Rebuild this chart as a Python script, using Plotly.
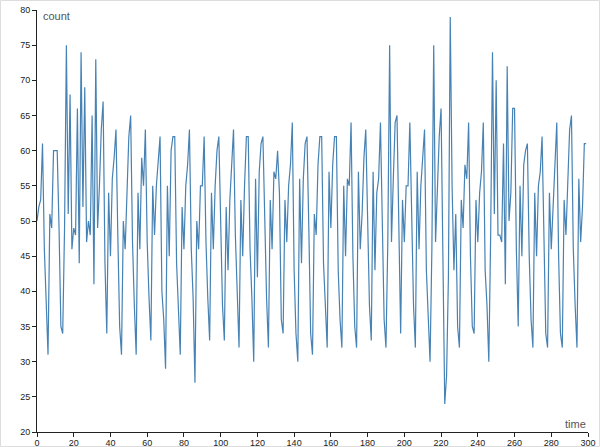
import plotly.graph_objects as go

time = list(range(300))
count = [
    50, 52, 53, 61, 46, 37, 31, 51, 49, 60,
    60, 60, 49, 35, 34, 49, 75, 51, 68, 46,
    49, 48, 66, 44, 74, 52, 69, 47, 50, 48,
    65, 41, 73, 49, 55, 63, 67, 44, 34, 54,
    45, 56, 59, 63, 48, 35, 31, 50, 46, 53,
    62, 65, 47, 38, 31, 54, 46, 59, 55, 63,
    47, 39, 33, 55, 48, 55, 58, 62, 40, 36,
    29, 55, 45, 60, 62, 62, 44, 36, 31, 52,
    46, 55, 58, 63, 46, 39, 27, 50, 46, 55,
    55, 62, 47, 39, 33, 54, 46, 55, 60, 62,
    48, 38, 33, 52, 43, 53, 58, 63, 48, 40,
    32, 53, 45, 55, 62, 62, 46, 39, 30, 56,
    42, 57, 61, 62, 49, 39, 32, 53, 46, 57,
    56, 60, 54, 36, 34, 53, 47, 55, 58, 64,
    43, 34, 30, 56, 44, 56, 61, 62, 49, 34,
    31, 51, 48, 58, 62, 62, 44, 38, 32, 57,
    49, 58, 62, 62, 43, 36, 32, 55, 45, 56,
    55, 64, 45, 35, 32, 57, 46, 51, 59, 63,
    48, 38, 33, 57, 43, 54, 56, 64, 50, 36,
    32, 47, 75, 47, 56, 64, 65, 50, 34, 53,
    47, 55, 55, 64, 49, 38, 32, 57, 46, 55,
    59, 63, 43, 37, 30, 46, 75, 47, 54, 62,
    66, 45, 24, 28, 42, 79, 55, 43, 51, 35,
    32, 53, 49, 58, 56, 64, 45, 35, 34, 53,
    47, 54, 57, 64, 43, 38, 30, 48, 74, 51,
    70, 48, 48, 47, 61, 41, 72, 50, 54, 66,
    66, 46, 35, 55, 45, 58, 60, 61, 45, 36,
    32, 54, 45, 55, 57, 62, 49, 34, 32, 54,
    46, 52, 59, 64, 45, 34, 32, 53, 48, 56,
    63, 65, 46, 38, 32, 56, 47, 52, 61, 61,
]

x_ticks = list(range(0, 301, 20))
y_ticks = list(range(20, 81, 5))

ML, MR, MT, MB = 37, 12, 10, 15
W, H = 600, 447
PW, PH = W - ML - MR, H - MT - MB

fig = go.Figure()
fig.add_trace(go.Scatter(
    x=time, y=count, mode="lines",
    line=dict(color="#4682b4", width=1.2),
    hoverinfo="skip", showlegend=False,
))

font_family = "Arial, Liberation Sans, sans-serif"
axis_common = dict(
    showgrid=False, zeroline=False, showline=True, linecolor="#222",
    linewidth=1, ticks="outside", ticklen=4, tickcolor="#222",
    automargin=False,
    tickfont=dict(family=font_family, size=9, color="#222"),
)
fig.update_xaxes(range=[0, 300], tickvals=x_ticks, ticklabelstandoff=-2, **axis_common)
fig.update_yaxes(range=[20, 80], tickvals=y_ticks, **axis_common)

fig.add_annotation(x=2, y=79.2, xref="x", yref="y", text="count", showarrow=False,
                   xanchor="left", yanchor="middle",
                   font=dict(family=font_family, size=11, color="#555"))
fig.add_annotation(x=300, y=21.1, xref="x", yref="y", text="time", showarrow=False,
                   xanchor="right", yanchor="middle",
                   font=dict(family=font_family, size=11, color="#555"))

fig.add_shape(type="rect", xref="paper", yref="paper",
              x0=-(ML - 0.5) / PW, x1=1 + (MR - 0.5) / PW,
              y0=-(MB - 0.5) / PH, y1=1 + (MT - 0.5) / PH,
              line=dict(color="#dddddd", width=1), layer="below")

fig.update_layout(
    width=W, height=H,
    margin=dict(l=ML, r=MR, t=MT, b=MB),
    paper_bgcolor="white", plot_bgcolor="white",
)
fig.write_html("out.html", config={"displayModeBar": False},
               post_script="document.body.style.margin='0';")
